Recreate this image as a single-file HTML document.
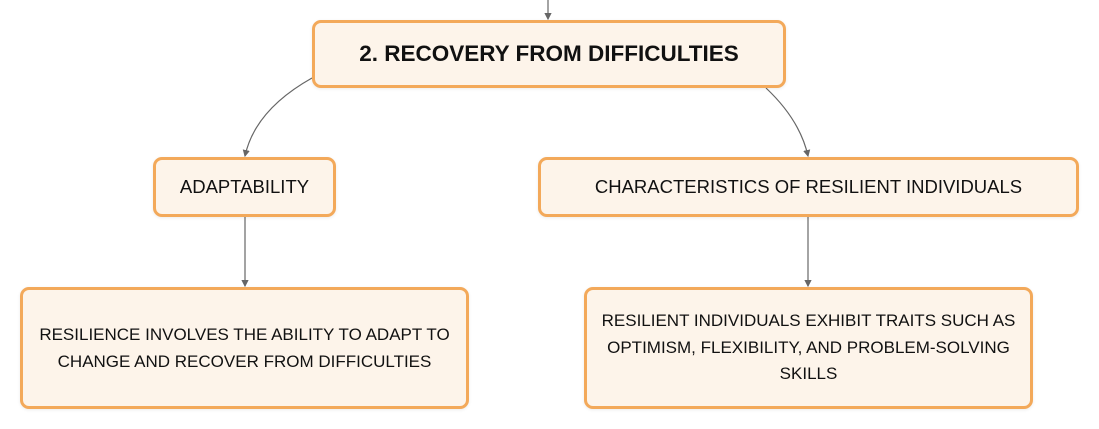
<!DOCTYPE html>
<html><head><style>
body{margin:0;width:1099px;height:429px;background:#fff;position:relative;overflow:hidden;font-family:"Liberation Sans",sans-serif;}
.b{position:absolute;box-sizing:border-box;border:3px solid #f3a95a;background:#fdf4ea;border-radius:9px;display:flex;align-items:center;justify-content:center;text-align:center;color:#111;font-size:18.5px;line-height:24px;box-shadow:0 1px 3px rgba(0,0,0,.08);}
svg{position:absolute;left:0;top:0;}
</style></head><body>
<svg width="1099" height="429">
<defs><marker id="a" markerWidth="6" markerHeight="6" refX="5" refY="3" orient="auto"><path d="M0,0 L6,3 L0,6z" fill="#666"/></marker></defs>
<g stroke="#666" stroke-width="1.2" fill="none">
<path d="M548,0 L548,19" marker-end="url(#a)"/>
<path d="M312,78 Q255,110 245,156" marker-end="url(#a)"/>
<path d="M766,88 Q800,120 808,156" marker-end="url(#a)"/>
<path d="M245,216 L245,286" marker-end="url(#a)"/>
<path d="M808,216 L808,286" marker-end="url(#a)"/>
</g></svg>
<div class="b" style="left:312px;top:20px;width:474px;height:68px;font-weight:bold;font-size:22.5px;">2. RECOVERY FROM DIFFICULTIES</div>
<div class="b" style="left:153px;top:157px;width:183px;height:60px;">ADAPTABILITY</div>
<div class="b" style="left:538px;top:157px;width:541px;height:60px;">CHARACTERISTICS OF RESILIENT INDIVIDUALS</div>
<div class="b" style="left:20px;top:287px;width:449px;height:122px;padding:0 14px;font-size:17px;line-height:27px;">RESILIENCE INVOLVES THE ABILITY TO ADAPT TO CHANGE AND RECOVER FROM DIFFICULTIES</div>
<div class="b" style="left:584px;top:287px;width:449px;height:122px;padding:0 12px;font-size:17px;line-height:26.5px;">RESILIENT INDIVIDUALS EXHIBIT TRAITS SUCH AS OPTIMISM, FLEXIBILITY, AND PROBLEM-SOLVING SKILLS</div>
</body></html>
